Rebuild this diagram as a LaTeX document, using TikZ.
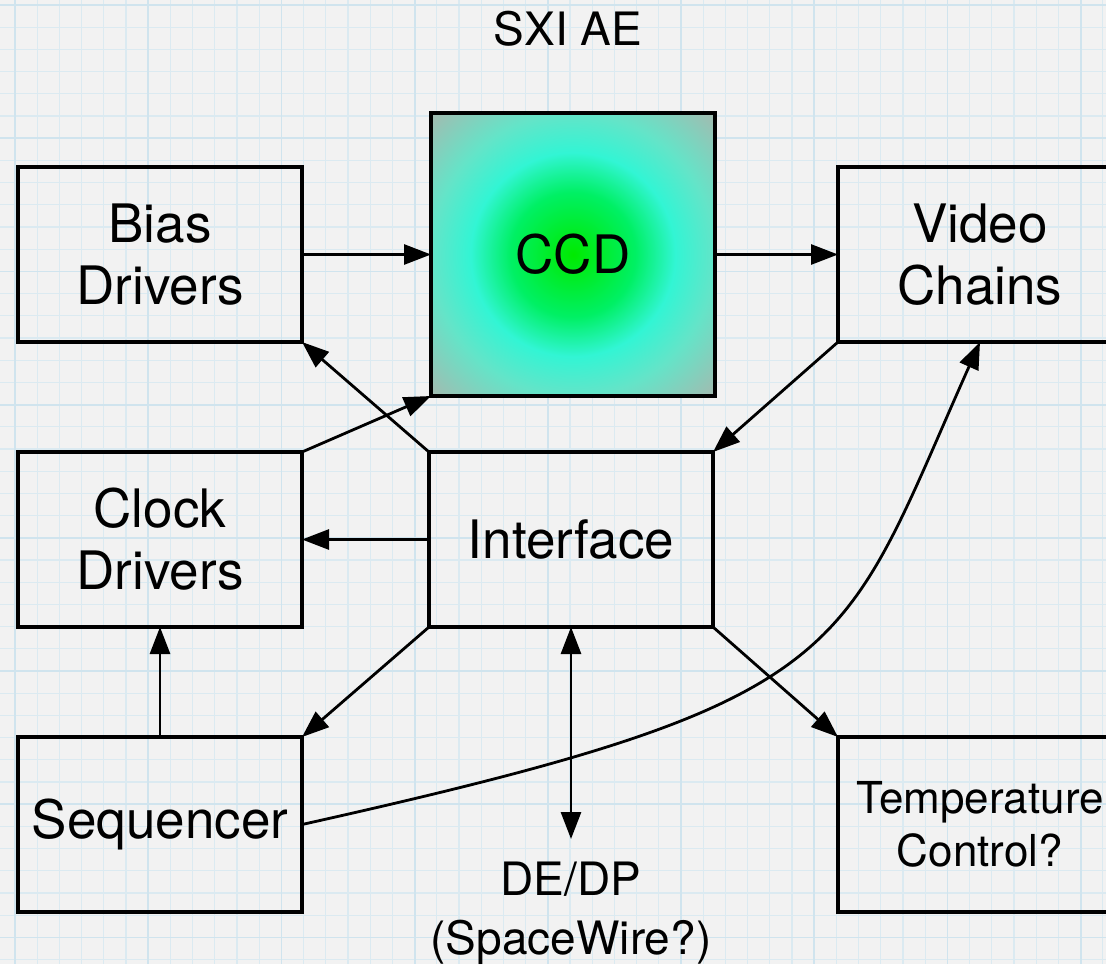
\documentclass[tikz,border=0pt]{standalone}
\usepackage{fontspec}
\setmainfont{TeX Gyre Heros}
\usetikzlibrary{arrows.meta,positioning}

\definecolor{paper}{RGB}{242,242,242}
\definecolor{gridline}{RGB}{219,234,241}
\definecolor{gridmajor}{RGB}{208,228,238}
\definecolor{ccdA}{RGB}{0,234,0}
\definecolor{ccdB}{RGB}{0,240,100}
\definecolor{ccdC}{RGB}{50,245,212}
\definecolor{ccdD}{RGB}{100,228,200}
\definecolor{ccdE}{RGB}{165,185,175}

% green glow for the sensor block
\pgfdeclareradialshading{ccdglow}{\pgfpointorigin}{%
  color(0bp)=(ccdA); color(11bp)=(ccdB); color(18bp)=(ccdC);
  color(25bp)=(ccdD); color(35.5bp)=(ccdE); color(50bp)=(ccdE)}

\begin{document}
\begin{tikzpicture}[
  x=0.5pt, y=-0.5pt,
  font=\fontsize{26.5}{31}\selectfont,
  block/.style={draw, line width=1.6pt, align=center, minimum width=142pt, minimum height=87.5pt, inner sep=0pt, outer sep=0pt},
  link/.style={-{Triangle[length=13.5pt,width=10pt]}, line width=1.4pt},
  twoway/.style={{Triangle[length=13.5pt,width=10pt]}-{Triangle[length=13.5pt,width=10pt]}, line width=1.4pt},
  small/.style={align=center, font=\fontsize{23}{29.5}\selectfont}
]

% graph paper
\useasboundingbox (0,0) rectangle (1106,964);
\fill[paper] (0,0) rectangle (1106,964);
\foreach \i in {0,...,49}
  \draw[gridline, line width=0.6pt] (15+22.2*\i,0) -- ++(0,964);
\foreach \j in {0,...,43}
  \draw[gridline, line width=0.6pt] (0,5+22.2*\j) -- ++(1106,0);
\foreach \i in {0,...,8}
  \draw[gridmajor, line width=0.9pt] (15+133.2*\i,0) -- ++(0,964);
\foreach \j in {0,...,7}
  \draw[gridmajor, line width=0.9pt] (0,5+133.2*\j) -- ++(1106,0);

\node[small] (title) at (568,29) {SXI AE};

\node[block] (bias) at (160,254.5) {Bias\\Drivers};
\node[block, right=64.5pt of bias, minimum height=141.5pt, shading=ccdglow, draw] (ccd) {CCD};
\node[block, right=61.5pt of ccd] (video) {Video\\Chains};
\node[block, below=55pt of bias] (clock) {Clock\\Drivers};
\node[block, right=63.5pt of clock] (iface) {Interface};
\node[block, below=55pt of clock] (seq) {Sequencer};
\node[block, font=\fontsize{22}{26.5}\selectfont] (temp) at (video |- seq) {Temperature\\Control?};
\node[small, below=106pt of iface, inner ysep=11.5pt] (dedp) {DE/DP\\(SpaceWire?)};

\draw[link] (bias) -- (ccd);
\draw[link] (ccd) -- (video);
\draw[link] (video.south west) -- (iface.north east);
\draw[link] (iface.north west) -- (bias.south east);
\draw[link] (clock.north east) -- (ccd.south west);
\draw[link] (iface) -- (clock);
\draw[link] (iface.south west) -- (seq.north east);
\draw[link] (seq) -- (clock);
\draw[twoway] (iface) -- (dedp);
\draw[link] (iface.south east) -- (temp.north west);
\draw[link] (seq.east) .. controls (860,700) and (838,660) .. (video.south);

\end{tikzpicture}
\end{document}
